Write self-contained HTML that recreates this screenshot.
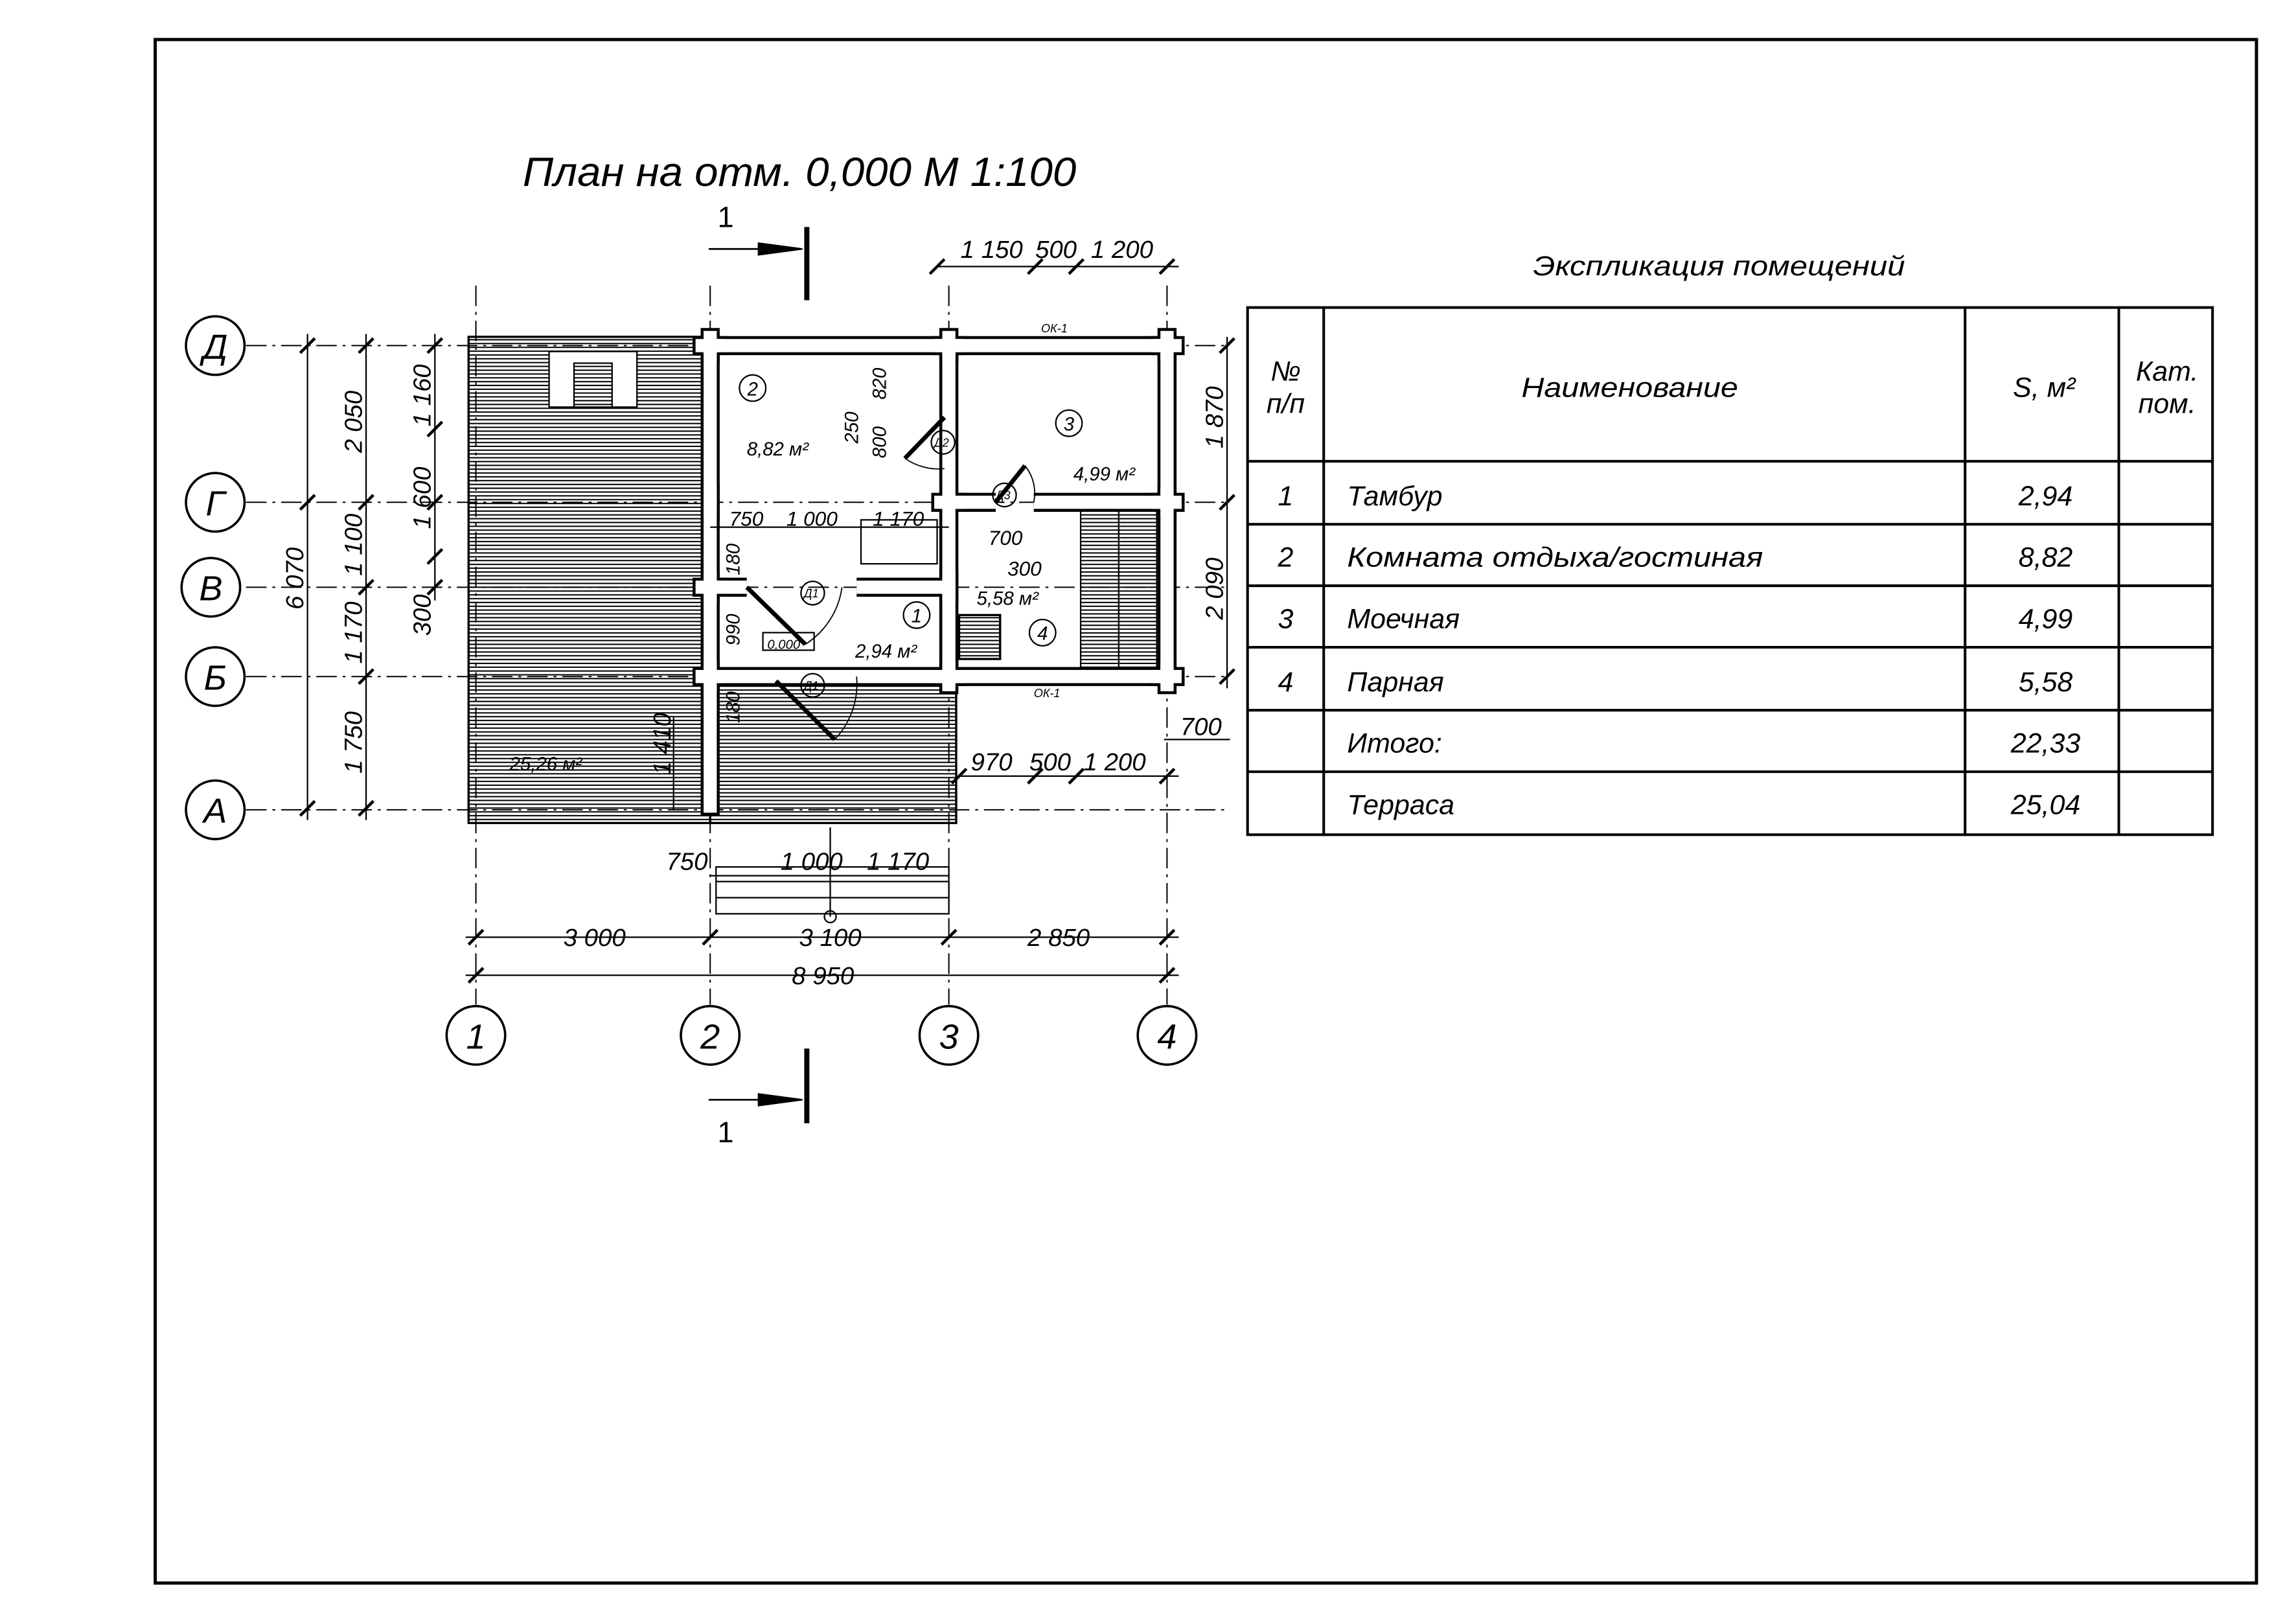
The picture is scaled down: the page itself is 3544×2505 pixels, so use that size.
<!DOCTYPE html>
<html><head><meta charset="utf-8"><style>
html,body{margin:0;padding:0;background:#fff}
svg{display:block}
text{font-family:"Liberation Sans",sans-serif;font-style:italic;fill:#000}
</style></head><body>
<svg width="3544" height="2505" viewBox="0 0 1568 1108.3" preserveAspectRatio="none" xmlns="http://www.w3.org/2000/svg">
<defs>
<pattern id="h" width="4" height="2.6" patternUnits="userSpaceOnUse"><rect width="4" height="2.6" fill="#fff"/><line x1="0" y1="0.6" x2="4" y2="0.6" stroke="#000" stroke-width="0.9"/></pattern>
</defs>
<rect x="106" y="27" width="1435" height="1054" fill="none" stroke="#000" stroke-width="2.2"/>
<text x="357" y="127" font-size="28" textLength="378" lengthAdjust="spacingAndGlyphs">План на отм. 0,000 М 1:100</text>
<text x="1047" y="188" font-size="19" textLength="254" lengthAdjust="spacingAndGlyphs">Экспликация помещений</text>

<g stroke="#000" stroke-width="1.8" fill="none">
<rect x="852" y="210" width="659" height="360"/>
<line x1="904" y1="210" x2="904" y2="570"/><line x1="1342" y1="210" x2="1342" y2="570"/><line x1="1447" y1="210" x2="1447" y2="570"/>
<line x1="852" y1="315" x2="1511" y2="315"/><line x1="852" y1="358" x2="1511" y2="358"/><line x1="852" y1="400" x2="1511" y2="400"/><line x1="852" y1="442" x2="1511" y2="442"/><line x1="852" y1="485" x2="1511" y2="485"/><line x1="852" y1="527" x2="1511" y2="527"/>
</g>
<g font-size="19">
<text x="878" y="260" text-anchor="middle">№</text><text x="878" y="282" text-anchor="middle">п/п</text>
<text x="1113" y="271" text-anchor="middle" textLength="148" lengthAdjust="spacingAndGlyphs">Наименование</text>
<text x="1396" y="271" text-anchor="middle">S, м²</text>
<text x="1480" y="260" text-anchor="middle">Кат.</text><text x="1480" y="282" text-anchor="middle">пом.</text>
<text x="878" y="345" text-anchor="middle">1</text><text x="920" y="345">Тамбур</text><text x="1397" y="345" text-anchor="middle">2,94</text>
<text x="878" y="387" text-anchor="middle">2</text><text x="920" y="387" textLength="284" lengthAdjust="spacingAndGlyphs">Комната отдыха/гостиная</text><text x="1397" y="387" text-anchor="middle">8,82</text>
<text x="878" y="429" text-anchor="middle">3</text><text x="920" y="429">Моечная</text><text x="1397" y="429" text-anchor="middle">4,99</text>
<text x="878" y="472" text-anchor="middle">4</text><text x="920" y="472">Парная</text><text x="1397" y="472" text-anchor="middle">5,58</text>
<text x="920" y="514">Итого:</text><text x="1397" y="514" text-anchor="middle">22,33</text>
<text x="920" y="556">Терраса</text><text x="1397" y="556" text-anchor="middle">25,04</text>
</g>

<rect x="320" y="230" width="165" height="332" fill="url(#h)" stroke="#000" stroke-width="1.5"/>
<rect x="485" y="462" width="168" height="100" fill="url(#h)" stroke="#000" stroke-width="1.5"/>
<rect x="738" y="348" width="52" height="110" fill="url(#h)" stroke="#000" stroke-width="1"/>
<line x1="764" y1="348" x2="764" y2="458" stroke="#000"/>
<rect x="375" y="240" width="60" height="38" fill="#fff" stroke="#000"/>
<rect x="392" y="248" width="26" height="30" fill="url(#h)" stroke="#000"/>

<g stroke="#000" stroke-width="0.9" stroke-dasharray="14,4,2,4" fill="none">
<line x1="168" y1="236" x2="840" y2="236"/><line x1="168" y1="343" x2="840" y2="343"/><line x1="168" y1="401" x2="840" y2="401"/><line x1="168" y1="462" x2="840" y2="462"/><line x1="168" y1="553" x2="840" y2="553"/>
<line x1="325" y1="195" x2="325" y2="686"/><line x1="485" y1="195" x2="485" y2="686"/><line x1="648" y1="195" x2="648" y2="686"/><line x1="797" y1="195" x2="797" y2="686"/>
</g>

<g stroke="#000" stroke-width="13" fill="none" stroke-linecap="butt">
<path d="M485 236H797V462H648M485 236V462H648M648 236V462M648 343H680M706 343H797M485 401H510M585 401H648"/>
<path d="M485 462V557"/>
<path d="M485 224v24M648 224v24M797 224v24M485 331v24M797 331v24M485 389v24M648 389v24M485 450v24M648 450v24M797 450v24M473 236h24M636 236h24M785 236h24M473 401h24M636 343h24M785 343h24M473 462h24M636 462h24M785 462h24"/>
</g>
<g stroke="#fff" stroke-width="9" fill="none" stroke-linecap="butt">
<path d="M485 236H797V462H648M485 236V462H648M648 236V462M648 343H680M706 343H797M485 401H510M585 401H648"/>
<path d="M485 462V555"/>
<path d="M485 226v20M648 226v20M797 226v20M485 333v20M797 333v20M485 391v20M648 391v20M485 452v20M648 452v20M797 452v20M475 236h20M638 236h20M787 236h20M475 401h20M638 343h20M787 343h20M475 462h20M638 462h20M787 462h20"/>
</g>
<g stroke="#000" fill="none">
<line x1="510" y1="401" x2="550" y2="440" stroke-width="3"/><path d="M550 440A55 55 0 0 0 575 401" stroke-width="0.8"/>
<line x1="530" y1="465" x2="570" y2="505" stroke-width="3"/><path d="M570 505A55 55 0 0 0 585 462" stroke-width="0.8"/>
<line x1="645" y1="285" x2="618" y2="313" stroke-width="3"/><path d="M618 313A40 40 0 0 0 645 320" stroke-width="0.8"/>
<line x1="680" y1="343" x2="700" y2="318" stroke-width="3"/><path d="M700 318A30 30 0 0 1 706 343" stroke-width="0.8"/>
<rect x="588" y="355" width="52" height="30" stroke-width="1"/>
<rect x="655" y="420" width="28" height="30" fill="url(#h)" stroke-width="1.5"/>
<rect x="521" y="432" width="35" height="12" stroke-width="1"/>
<rect x="489" y="592" width="159" height="32" stroke-width="1"/>
<line x1="489" y1="602" x2="648" y2="602"/><line x1="489" y1="613" x2="648" y2="613"/>
<line x1="567" y1="565" x2="567" y2="626"/><circle cx="567" cy="626" r="4"/>
</g>

<g font-size="13" stroke="#000" fill="none">
<circle cx="514" cy="265" r="9"/><circle cx="730" cy="289" r="9"/><circle cx="626" cy="420" r="9"/><circle cx="712" cy="432" r="9"/>
<circle cx="555" cy="405" r="8"/><circle cx="555" cy="468" r="8"/><circle cx="644" cy="302" r="8"/><circle cx="686" cy="338" r="8"/>
</g>
<g font-size="13">
<text x="514" y="270" text-anchor="middle">2</text><text x="730" y="294" text-anchor="middle">3</text><text x="626" y="425" text-anchor="middle">1</text><text x="712" y="437" text-anchor="middle">4</text>
<text x="510" y="311">8,82 м²</text><text x="733" y="328">4,99 м²</text><text x="667" y="413">5,58 м²</text><text x="584" y="449">2,94 м²</text><text x="348" y="526">25,26 м²</text>
<text x="524" y="443" font-size="9">0,000</text>
</g>
<g font-size="8"><text x="549" y="408">Д1</text><text x="549" y="471">Д1</text><text x="638" y="305">Д2</text><text x="680" y="341">Д3</text><text x="711" y="227">ОК-1</text><text x="706" y="476">ОК-1</text></g>

<g stroke="#000" stroke-width="1.6" fill="#fff">
<circle cx="147" cy="236" r="20"/><circle cx="147" cy="343" r="20"/><circle cx="144" cy="401" r="20"/><circle cx="147" cy="462" r="20"/><circle cx="147" cy="553" r="20"/>
<circle cx="325" cy="707" r="20"/><circle cx="485" cy="707" r="20"/><circle cx="648" cy="707" r="20"/><circle cx="797" cy="707" r="20"/>
</g>
<g font-size="24" text-anchor="middle">
<text x="147" y="245">Д</text><text x="147" y="352">Г</text><text x="144" y="410">В</text><text x="147" y="471">Б</text><text x="147" y="562">А</text>
<text x="325" y="716">1</text><text x="485" y="716">2</text><text x="648" y="716">3</text><text x="797" y="716">4</text>
</g>

<g stroke="#000" stroke-width="1" fill="none">
<line x1="210" y1="228" x2="210" y2="560"/><line x1="250" y1="228" x2="250" y2="560"/><line x1="297" y1="228" x2="297" y2="410"/>
<line x1="318" y1="640" x2="805" y2="640"/><line x1="318" y1="666" x2="805" y2="666"/>
<line x1="640" y1="182" x2="805" y2="182"/><line x1="655" y1="530" x2="805" y2="530"/><line x1="795" y1="505" x2="840" y2="505"/>
<line x1="838" y1="230" x2="838" y2="470"/><line x1="460" y1="490" x2="460" y2="553"/>
<line x1="485" y1="598" x2="648" y2="598"/><line x1="485" y1="360" x2="648" y2="360"/>
</g>
<g stroke="#000" stroke-width="2">
<path d="M205 241l10-10M205 348l10-10M205 557l10-10M245 241l10-10M245 348l10-10M245 406l10-10M245 467l10-10M245 557l10-10M292 241l10-10M292 298l10-10M292 348l10-10M292 385l10-10M292 406l10-10"/>
<path d="M320 645l10-10M480 645l10-10M643 645l10-10M792 645l10-10M320 671l10-10M792 671l10-10"/>
<path d="M635 187l10-10M702 187l10-10M730 187l10-10M792 187l10-10M650 535l10-10M702 535l10-10M730 535l10-10M792 535l10-10"/>
<path d="M833 241l10-10M833 348l10-10M833 467l10-10"/>
</g>
<g font-size="17">
<text x="406" y="646" text-anchor="middle">3 000</text><text x="567" y="646" text-anchor="middle">3 100</text><text x="723" y="646" text-anchor="middle">2 850</text>
<text x="562" y="672" text-anchor="middle">8 950</text>
<text x="656" y="176">1 150</text><text x="707" y="176">500</text><text x="745" y="176">1 200</text>
<text x="663" y="526">970</text><text x="703" y="526">500</text><text x="740" y="526">1 200</text><text x="806" y="502">700</text>
<text x="455" y="594">750</text><text x="533" y="594">1 000</text><text x="592" y="594">1 170</text>
<text x="498" y="359" font-size="14">750</text><text x="537" y="359" font-size="14">1 000</text><text x="596" y="359" font-size="14">1 170</text>
<text x="675" y="372" font-size="14">700</text><text x="688" y="393" font-size="14">300</text>
<text transform="translate(207 395) rotate(-90)" text-anchor="middle">6 070</text>
<text transform="translate(247 288) rotate(-90)" text-anchor="middle">2 050</text>
<text transform="translate(247 372) rotate(-90)" text-anchor="middle">1 100</text>
<text transform="translate(247 432) rotate(-90)" text-anchor="middle">1 170</text>
<text transform="translate(247 507) rotate(-90)" text-anchor="middle">1 750</text>
<text transform="translate(294 270) rotate(-90)" text-anchor="middle">1 160</text>
<text transform="translate(294 340) rotate(-90)" text-anchor="middle">1 600</text>
<text transform="translate(294 420) rotate(-90)" text-anchor="middle">300</text>
<text transform="translate(835 285) rotate(-90)" text-anchor="middle">1 870</text>
<text transform="translate(835 402) rotate(-90)" text-anchor="middle">2 090</text>
<text transform="translate(458 508) rotate(-90)" text-anchor="middle">1 410</text>
<text transform="translate(505 382) rotate(-90)" text-anchor="middle" font-size="13">180</text>
<text transform="translate(505 430) rotate(-90)" text-anchor="middle" font-size="13">990</text>
<text transform="translate(505 483) rotate(-90)" text-anchor="middle" font-size="13">180</text>
<text transform="translate(605 262) rotate(-90)" text-anchor="middle" font-size="13">820</text>
<text transform="translate(605 302) rotate(-90)" text-anchor="middle" font-size="13">800</text>
<text transform="translate(586 292) rotate(-90)" text-anchor="middle" font-size="13">250</text>
</g>

<g stroke="#000">
<line x1="551" y1="155" x2="551" y2="205" stroke-width="3.5"/><line x1="484" y1="170" x2="540" y2="170" stroke-width="1.2"/>
<path d="M518 166L548 170L518 174Z" fill="#000"/>
<line x1="551" y1="716" x2="551" y2="767" stroke-width="3.5"/><line x1="484" y1="751" x2="540" y2="751" stroke-width="1.2"/>
<path d="M518 747L548 751L518 755Z" fill="#000"/>
</g>
<text x="490" y="155" font-size="20" style="font-style:normal">1</text>
<text x="490" y="780" font-size="20" style="font-style:normal">1</text>
</svg>
</body></html>
